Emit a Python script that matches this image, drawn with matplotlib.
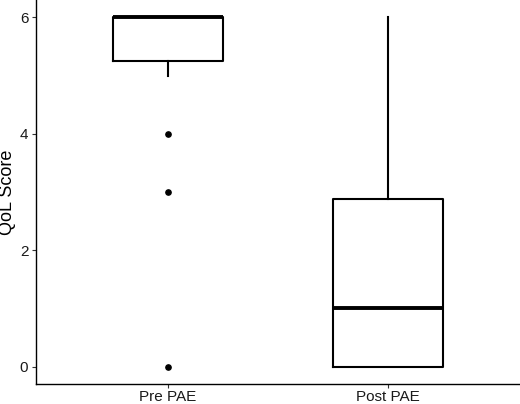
import matplotlib.pyplot as plt

groups = ["Pre PAE", "Post PAE"]
q1 = [5.25, 0.0]
medians = [6.0, 1.0]
q3 = [6.0, 2.875]
whisker_lo = [5.0, 0.0]
whisker_hi = [6.0, 6.0]
outliers = [[4, 3, 0], []]

plt.rcParams['font.family'] = ['Liberation Sans', 'DejaVu Sans']

stats = []
for i in range(len(groups)):
    stats.append({
        "label": groups[i],
        "q1": q1[i], "med": medians[i], "q3": q3[i],
        "whislo": whisker_lo[i], "whishi": whisker_hi[i],
        "fliers": outliers[i],
    })

fig = plt.figure(figsize=(5.2, 4.04), dpi=100)
ax = fig.add_axes([36 / 520, 20 / 404, 484 / 520, 384 / 404])

ax.bxp(stats, positions=[1, 2], widths=0.5, showcaps=False,
       boxprops=dict(color="black", linewidth=1.5),
       medianprops=dict(color="black", linewidth=2.8),
       whiskerprops=dict(color="black", linewidth=1.5),
       flierprops=dict(marker="o", markerfacecolor="black",
                       markeredgecolor="black", markersize=3.8))

ax.set_xlim(0.4, 2.6)
ax.set_ylim(-0.3, 6.3)
ax.set_yticks([0, 2, 4, 6])
ax.set_xticks([1, 2])
ax.set_xticklabels(groups)
ax.set_ylabel("QoL Score", fontsize=13)
ax.yaxis.set_label_coords(-0.042, 0.5)
ax.tick_params(labelsize=11, colors="#333333", length=3, width=0.8, pad=2.5)
ax.tick_params(axis="x", pad=1.2)
for lab in ax.get_xticklabels() + ax.get_yticklabels():
    lab.set_color("#1a1a1a")
for s in ["top", "right"]:
    ax.spines[s].set_visible(False)
for s in ["left", "bottom"]:
    ax.spines[s].set_linewidth(1.0)

fig.savefig("out.png", dpi=100)
